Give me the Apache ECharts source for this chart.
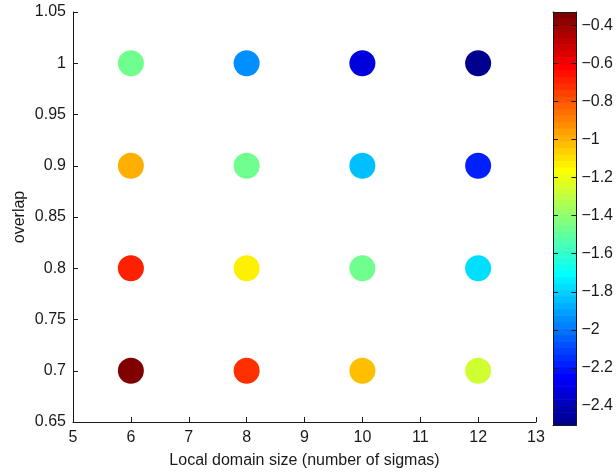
<!DOCTYPE html>
<html>
<head>
<meta charset="utf-8">
<script src="https://cdn.jsdelivr.net/npm/echarts@6/dist/echarts.min.js"></script>
<style>
  html, body { margin: 0; padding: 0; background: #fff; }
  #chart { width: 616px; height: 474px; }
</style>
</head>
<body>
<div id="chart"></div>
<script>
// Local domain size (x) and overlap (y) grid
const domainSizes = [6, 8, 10, 12];
const overlaps = [0.7, 0.8, 0.9, 1.0];

// Colour value at each (size, overlap), one row per overlap level
const valuesOverlap070 = [-0.33, -0.72, -1.025, -1.263];
const valuesOverlap080 = [-0.686, -1.127, -1.466, -1.771];
const valuesOverlap090 = [-0.991, -1.466, -1.839, -2.178];
const valuesOverlap100 = [-1.466, -1.941, -2.314, -2.50];

const xTicks = [5, 6, 7, 8, 9, 10, 11, 12, 13];
const yTicks = [0.65, 0.7, 0.75, 0.8, 0.85, 0.9, 0.95, 1.0, 1.05];
const colorbarTicks = [-2.4, -2.2, -2, -1.8, -1.6, -1.4, -1.2, -1, -0.8, -0.6, -0.4];

const valueRows = [valuesOverlap070, valuesOverlap080, valuesOverlap090, valuesOverlap100];

// Jet colormap with 64 levels
function jet(m) {
  const n = Math.ceil(m / 4);
  const u = [];
  for (let k = 1; k <= n; k++) u.push(k / n);
  for (let k = 1; k < n; k++) u.push(1);
  for (let k = n; k >= 1; k--) u.push(k / n);
  const off = Math.ceil(n / 2) - (m % 4 === 1 ? 1 : 0);
  const rgb = [];
  for (let i = 0; i < m; i++) rgb.push([0, 0, 0]);
  for (let k = 0; k < u.length; k++) {
    const g = off + k + 1, r = g + n;
    if (g <= m) rgb[g - 1][1] = u[k];
    if (r <= m) rgb[r - 1][0] = u[k];
  }
  const bIdx = [];
  for (let k = 0; k < u.length; k++) { const b = off + k + 1 - n; if (b >= 1) bIdx.push(b); }
  for (let j = 0; j < bIdx.length; j++) rgb[bIdx[j] - 1][2] = u[u.length - bIdx.length + j];
  return rgb.map(c => 'rgb(' + c.map(v => Math.round(v * 255)).join(',') + ')');
}
const jetColors = jet(64);

const scatterData = [];
overlaps.forEach((ov, r) => {
  domainSizes.forEach((sz, c) => scatterData.push([sz, ov, valueRows[r][c]]));
});
const allValues = scatterData.map(d => d[2]);
const cMin = Math.min(...allValues);
const cMax = Math.max(...allValues);
const step = (cMax - cMin) / jetColors.length;

const pieces = jetColors.map((color, i) => ({
  gte: cMin + i * step - (i === 0 ? 1e-9 : 0),
  lt: i === jetColors.length - 1 ? cMax + 1e-9 : cMin + (i + 1) * step,
  color
}));

const levelData = jetColors.map((c, i) => [i]);

const AX = '#1a1a1a';
const FONT = 'Liberation Sans, Arial, sans-serif';
const fmtNum = v => String(parseFloat(Number(v).toFixed(2)));
const fmtMinus = v => fmtNum(v).replace('-', '\u2212');

const chart = echarts.init(document.getElementById('chart'), null, { renderer: 'canvas' });
chart.setOption({
  animation: false,
  backgroundColor: '#fff',
  textStyle: { fontFamily: FONT },
  grid: [
    { left: 73, right: 80, top: 12, bottom: 50 },
    { left: 553, width: 25, top: 12, height: 413 }
  ],
  xAxis: [
    {
      gridIndex: 0, type: 'value', min: 5, max: 13, interval: 1,
      name: 'Local domain size (number of sigmas)', nameLocation: 'middle', nameGap: 31,
      nameMoveOverlap: false,
      nameTextStyle: { color: AX, fontSize: 16, fontFamily: FONT },
      axisLine: { show: true, lineStyle: { color: AX, width: 1 } },
      axisTick: { show: true, inside: true, length: 5, lineStyle: { color: AX } },
      axisLabel: { color: AX, fontSize: 16, fontFamily: FONT, margin: 8, formatter: fmtNum },
      splitLine: { show: false }
    },
    {
      gridIndex: 1, type: 'value', min: 0, max: 1, position: 'bottom', z: 10,
      axisLine: { show: true, onZero: false, lineStyle: { color: AX, width: 1 } },
      axisTick: { show: false }, axisLabel: { show: false }, splitLine: { show: false }
    },
    {
      gridIndex: 1, type: 'value', min: 0, max: 1, position: 'top', z: 10,
      axisLine: { show: true, onZero: false, lineStyle: { color: AX, width: 1 } },
      axisTick: { show: false }, axisLabel: { show: false }, splitLine: { show: false }
    }
  ],
  yAxis: [
    {
      gridIndex: 0, type: 'value', min: 0.65, max: 1.05, interval: 0.05,
      name: 'overlap', nameLocation: 'middle', nameGap: 45, nameRotate: 90,
      nameMoveOverlap: false,
      nameTextStyle: { color: AX, fontSize: 16, fontFamily: FONT },
      axisLine: { show: true, lineStyle: { color: AX, width: 1 } },
      axisTick: { show: true, inside: true, length: 5, lineStyle: { color: AX } },
      axisLabel: { color: AX, fontSize: 16, fontFamily: FONT, margin: 7, formatter: fmtNum },
      splitLine: { show: false }
    },
    {
      gridIndex: 1, type: 'value', min: cMin, max: cMax, position: 'left', z: 10,
      axisLine: { show: true, onZero: false, lineStyle: { color: AX, width: 1 } },
      axisTick: { show: true, inside: true, length: 5, customValues: colorbarTicks, lineStyle: { color: AX } },
      axisLabel: { show: false }, splitLine: { show: false }
    },
    {
      gridIndex: 1, type: 'value', min: cMin, max: cMax, position: 'right', z: 10,
      axisLine: { show: true, onZero: false, lineStyle: { color: AX, width: 1 } },
      axisTick: { show: true, inside: true, length: 5, customValues: colorbarTicks, lineStyle: { color: AX } },
      axisLabel: { show: true, color: AX, fontSize: 16, fontFamily: FONT, margin: 5,
                   customValues: colorbarTicks, formatter: fmtMinus },
      splitLine: { show: false }
    }
  ],
  visualMap: {
    type: 'piecewise', show: false, seriesIndex: 0, dimension: 2, pieces
  },
  series: [
    {
      type: 'scatter', xAxisIndex: 0, yAxisIndex: 0,
      symbol: 'circle', symbolSize: 26,
      itemStyle: { opacity: 1 },
      data: scatterData
    },
    {
      type: 'custom', xAxisIndex: 1, yAxisIndex: 1, z: 1,
      data: levelData,
      renderItem: (params, api) => {
        const i = api.value(0);
        const lo = cMin + i * step, hi = cMin + (i + 1) * step;
        const p1 = api.coord([0, hi]);
        const p2 = api.coord([1, lo]);
        return {
          type: 'rect',
          shape: { x: p1[0], y: p1[1], width: p2[0] - p1[0], height: p2[1] - p1[1] + 0.6 },
          style: { fill: jetColors[i] }
        };
      }
    }
  ]
});
</script>
</body>
</html>
